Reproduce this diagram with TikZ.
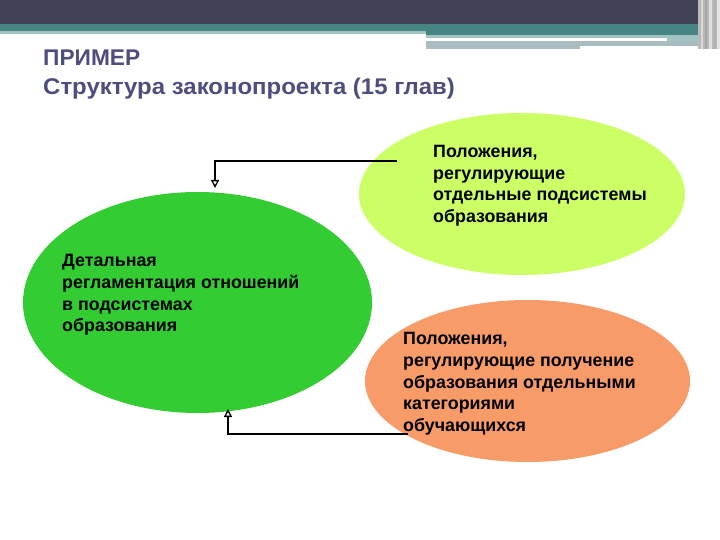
\documentclass[tikz,border=0pt]{standalone}
\usepackage{fontspec}
\usepackage{graphicx}
\setmainfont{Liberation Sans}
\usetikzlibrary{shapes.geometric,arrows.meta}
\definecolor{hdark}{HTML}{414256}
\definecolor{hteal}{HTML}{478584}
\definecolor{hlight}{HTML}{A3C2C2}
\definecolor{hgray}{HTML}{A9BDC0}
\definecolor{ttl}{HTML}{4D4D80}
\definecolor{cgreen}{HTML}{33CC33}
\definecolor{clime}{HTML}{CCFF66}
\definecolor{corange}{HTML}{F79B69}
\tikzset{
  blob/.style={ellipse, inner sep=0pt, draw=none},
  body/.style={inner sep=0pt, anchor=north west, align=left, font=\fontsize{17.9}{21.7}\selectfont\bfseries, text=black},
  ttlstyle/.style={anchor=base west, inner sep=0pt, font=\fontsize{22.8}{28}\selectfont\bfseries, text=ttl},
  conn/.style={draw=black, line width=1.6bp, -{Triangle[open, length=8bp, width=8bp, line width=1.3bp]}},
}
\begin{document}
\begin{tikzpicture}[x=1bp,y=-1bp]
\useasboundingbox (0,0) rectangle (720,540);
% header
\fill[hdark] (0,0) rectangle (720,24);
\fill[hteal] (0,24) rectangle (720,31);
\fill[hlight] (0,31) rectangle (426,34);
\fill[hteal] (426,31) rectangle (700,35);
\fill[hlight] (426,35) rectangle (700,38);
\fill[white] (426,38) rectangle (667,41);
\fill[hlight] (667,38) rectangle (700,41);
\fill[hgray] (426,41) rectangle (700,49);
\fill[white] (580,46) rectangle (700,49);
% right stripes
\fill[gray!55] (698,0) rectangle (720,49);
\fill[gray!30] (701,0) rectangle (703,49);
\fill[gray!70] (705,0) rectangle (707,49);
\fill[gray!25] (709,0) rectangle (712,49);
\fill[gray!60] (714,0) rectangle (716,49);
\fill[gray!20] (717,0) rectangle (720,49);
% title
\node[ttlstyle] (t1) at (43,66) {ПРИМЕР};
\node[ttlstyle] (t2) at (43,95) {\scalebox{1.055}[1]{Структура законопроекта (15 глав)}};
% ellipses
\node[blob, fill=cgreen, minimum width=349bp, minimum height=221bp] (g) at (197.5,302.5) {};
\node[blob, fill=clime, minimum width=326bp, minimum height=162bp] (l) at (522,194) {};
\node[blob, fill=corange, minimum width=325bp, minimum height=162bp] (o) at (527.5,381) {};
% texts
\node[body] (gt) at (62,254.5) {Детальная\\регламентация отношений\\в подсистемах\\образования};
\node[body] (lt) at (433,145) {Положения,\\регулирующие\\отдельные подсистемы\\образования};
\node[body] (ot) at (403,332.5) {Положения,\\регулирующие получение\\образования отдельными\\категориями\\обучающихся};
% connectors
\coordinate (s1) at (397,161);
\coordinate (e1) at (215,188);
\coordinate (s2) at (408,434);
\coordinate (e2) at (228,409);
\draw[conn] (s1) -| (e1);
\draw[conn] (s2) -| (e2);
\end{tikzpicture}
\end{document}
